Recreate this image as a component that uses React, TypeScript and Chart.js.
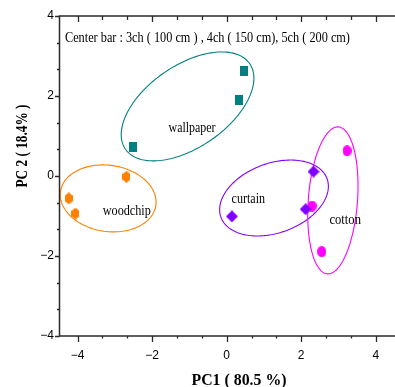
import React, { useEffect, useRef } from 'react';
import { Chart, registerables } from 'chart.js';
Chart.register(...registerables);

// ---- data ----
const categories = ['wallpaper', 'woodchip', 'curtain', 'cotton'];
const colors = ['#008080', '#FF8000', '#8000FF', '#FF00FF'];
const markers = ['rect', 'hexagon', 'diamond', 'circle'];

const wallpaperX = [0.46, 0.32, -2.51];
const wallpaperY = [2.63, 1.89, 0.73];
const woodchipX = [-2.69, -4.24, -4.06];
const woodchipY = [-0.02, -0.56, -0.94];
const curtainX = [2.33, 2.12, 0.14];
const curtainY = [0.11, -0.83, -1.01];
const cottonX = [3.23, 2.29, 2.55];
const cottonY = [0.63, -0.75, -1.89];

const seriesX = [wallpaperX, woodchipX, curtainX, cottonX];
const seriesY = [wallpaperY, woodchipY, curtainY, cottonY];

// confidence ellipses in data units: centre, major axis vector, minor axis vector
const ellipseCenter = [[-1.05, 1.74], [-3.18, -0.56], [1.27, -0.55], [2.85, -0.61]];
const ellipseMajor = [[1.675, 1.058], [1.28, -0.17], [1.427, 0.473], [0.149, 1.837]];
const ellipseMinor = [[0.604, -0.857], [-0.12, -0.82], [0.304, -0.823], [0.658, -0.048]];

// group label anchors (data units, text baseline centre)
const labelX = [-0.93, -2.68, 0.58, 3.18];
const labelY = [1.09, -0.975, -0.68, -1.21];

const noteText = 'Center bar : 3ch ( 100 cm ) , 4ch ( 150 cm), 5ch ( 200 cm)';
const noteX = -4.34;
const noteY = 3.36;

const xTitle = 'PC1 ( 80.5 %)';
const yTitle = 'PC 2 ( 18.4% )';

const xTickValues = [-4, -2, 0, 2, 4];
const xTickLabels = ['\u22124', '\u22122', '0', '2', '4'];
const yTickValues = [-4, -2, 0, 2, 4];
const yTickLabels = ['\u22124', '\u22122', '0', '2', '4'];

function makeMarker(kind: string, color: string): HTMLCanvasElement {
  const c = document.createElement('canvas');
  let w = 8, h = 10;
  if (kind === 'hexagon') { w = 8; h = 12; }
  if (kind === 'diamond') { w = 12; h = 12; }
  if (kind === 'circle') { w = 9; h = 11; }
  c.width = w; c.height = h;
  const g = c.getContext('2d')!;
  g.fillStyle = color;
  g.beginPath();
  if (kind === 'rect') {
    g.rect(0, 0, w, h);
  } else if (kind === 'hexagon') {
    g.moveTo(w / 2, 0);
    g.lineTo(w, h * 0.27);
    g.lineTo(w, h * 0.73);
    g.lineTo(w / 2, h);
    g.lineTo(0, h * 0.73);
    g.lineTo(0, h * 0.27);
    g.closePath();
  } else if (kind === 'diamond') {
    g.moveTo(w / 2, 0);
    g.lineTo(w, h / 2);
    g.lineTo(w / 2, h);
    g.lineTo(0, h / 2);
    g.closePath();
  } else {
    g.ellipse(w / 2, h / 2, w / 2, h / 2, 0, 0, Math.PI * 2);
  }
  g.fill();
  return c;
}

const decor = {
  id: 'decor',
  beforeDatasetsDraw(chart: any) {
    const { ctx, scales } = chart;
    const xs = scales.x, ys = scales.y;
    ctx.save();
    ctx.lineWidth = 1.1;
    for (let i = 0; i < ellipseCenter.length; i++) {
      const [cx, cy] = ellipseCenter[i];
      const [ux, uy] = ellipseMajor[i];
      const [vx, vy] = ellipseMinor[i];
      ctx.strokeStyle = colors[i];
      ctx.beginPath();
      const n = 160;
      for (let k = 0; k <= n; k++) {
        const t = (k / n) * Math.PI * 2;
        const dx = cx + ux * Math.cos(t) + vx * Math.sin(t);
        const dy = cy + uy * Math.cos(t) + vy * Math.sin(t);
        const px = xs.getPixelForValue(dx);
        const py = ys.getPixelForValue(dy);
        if (k === 0) ctx.moveTo(px, py); else ctx.lineTo(px, py);
      }
      ctx.closePath();
      ctx.stroke();
    }
    ctx.restore();
  },
  afterDraw(chart: any) {
    const { ctx, scales, chartArea } = chart;
    const xs = scales.x, ys = scales.y;
    const L = chartArea.left + 0.5;
    const T = chartArea.top;
    const B = chartArea.bottom;
    const R = chart.width;
    ctx.save();
    ctx.strokeStyle = '#2a2a2a';
    ctx.lineWidth = 1.5;
    ctx.beginPath();
    ctx.moveTo(L, T); ctx.lineTo(L, B);
    ctx.moveTo(L - 0.75, B); ctx.lineTo(R, B);
    ctx.moveTo(L - 0.75, T); ctx.lineTo(R, T);
    ctx.stroke();

    ctx.lineWidth = 1.3;
    ctx.beginPath();
    const step = xTickValues[1] - xTickValues[0];
    const xAll: Array<[number, boolean]> = [];
    for (let i = 0; i < xTickValues.length; i++) {
      const v = xTickValues[i];
      xAll.push([v, true]);
      xAll.push([v - step / 3, false], [v - 2 * step / 3, false], [v + step / 3, false], [v + 2 * step / 3, false]);
    }
    const seen = new Set<string>();
    for (const [v, major] of xAll) {
      const key = v.toFixed(3);
      if (seen.has(key)) continue; seen.add(key);
      if (v < xs.min || v > xs.max) continue;
      const px = Math.round(xs.getPixelForValue(v)) + 0.5;
      ctx.moveTo(px, B); ctx.lineTo(px, B + (major ? 6 : 2.5));
      ctx.moveTo(px, T); ctx.lineTo(px, T + (major ? 6 : 4));
    }
    const ystep = yTickValues[1] - yTickValues[0];
    const seenY = new Set<string>();
    for (let i = 0; i < yTickValues.length; i++) {
      const base = yTickValues[i];
      const list: Array<[number, boolean]> = [[base, true], [base + ystep / 3, false], [base + 2 * ystep / 3, false]];
      for (const [v, major] of list) {
        const key = v.toFixed(3);
        if (seenY.has(key)) continue; seenY.add(key);
        if (v < ys.min - 1e-6 || v > ys.max + 1e-6) continue;
        const py = Math.round(ys.getPixelForValue(v)) + 0.5;
        ctx.moveTo(L, py); ctx.lineTo(L - (major ? 4.5 : 2.5), py);
      }
    }
    ctx.stroke();

    // group labels
    ctx.fillStyle = '#000';
    ctx.textBaseline = 'alphabetic';
    ctx.textAlign = 'center';
    const labelW = [47, 48, 33.5, 31.5];
    ctx.font = '14.5px "Liberation Serif", "Times New Roman", serif';
    for (let i = 0; i < categories.length; i++) {
      const px = xs.getPixelForValue(labelX[i]);
      const py = ys.getPixelForValue(labelY[i]);
      ctx.fillText(categories[i], px, py, labelW[i]);
    }
    ctx.textAlign = 'left';
    ctx.font = '15px "Liberation Serif", "Times New Roman", serif';
    ctx.fillText(noteText, xs.getPixelForValue(noteX), ys.getPixelForValue(noteY), 285);

    // axis titles
    ctx.font = 'bold 16px "Liberation Serif", "Times New Roman", serif';
    ctx.textAlign = 'center';
    ctx.fillText(xTitle, 239, 384.5, 95);
    ctx.save();
    ctx.translate(27, 146);
    ctx.rotate(-Math.PI / 2);
    ctx.fillText(yTitle, 0, 0, 83);
    ctx.restore();
    ctx.restore();
  },
};

export default function App() {
  const ref = useRef<HTMLCanvasElement | null>(null);
  useEffect(() => {
    if (!ref.current) return;
    const datasets = categories.map((name, i) => ({
      label: name,
      data: seriesX[i].map((x, k) => ({ x, y: seriesY[i][k] })),
      pointStyle: makeMarker(markers[i], colors[i]) as any,
      backgroundColor: colors[i],
      borderColor: colors[i],
      pointRadius: 5,
      showLine: false,
    }));
    const chart = new Chart(ref.current, {
      type: 'scatter',
      data: { datasets },
      plugins: [decor],
      options: {
        responsive: false,
        animation: false,
        devicePixelRatio: 1,
        layout: { padding: { top: 16, left: 0, right: 0, bottom: 0 } },
        plugins: { legend: { display: false }, tooltip: { enabled: false } },
        scales: {
          x: {
            type: 'linear',
            min: -4.5,
            max: 5.0,
            grid: { display: false, drawTicks: false },
            border: { display: false },
            afterBuildTicks: (s: any) => { s.ticks = xTickValues.map((v) => ({ value: v })); },
            afterFit: (s: any) => { s.height = 51; },
            ticks: {
              padding: 12,
              color: '#000',
              font: { family: '"Liberation Sans", Arial, sans-serif', size: 12 },
              callback: (v: any) => { const i = xTickValues.indexOf(Number(v)); return i >= 0 ? xTickLabels[i] : ''; },
            },
          },
          y: {
            type: 'linear',
            min: -4,
            max: 4,
            grid: { display: false, drawTicks: false },
            border: { display: false },
            afterBuildTicks: (s: any) => { s.ticks = yTickValues.map((v) => ({ value: v })); },
            afterFit: (s: any) => { s.width = 59; },
            ticks: {
              padding: 5,
              color: '#000',
              font: { family: '"Liberation Sans", Arial, sans-serif', size: 12 },
              callback: (v: any) => { const i = yTickValues.indexOf(Number(v)); return i >= 0 ? yTickLabels[i] : ''; },
            },
          },
        },
      },
    });
    return () => chart.destroy();
  }, []);
  return (
    <div style={{ position: 'absolute', left: 0, top: 0, width: 395, height: 387, overflow: 'hidden', background: '#fff' }}>
      <canvas ref={ref} width={419} height={387} style={{ display: 'block', width: 419, height: 387 }} />
    </div>
  );
}
